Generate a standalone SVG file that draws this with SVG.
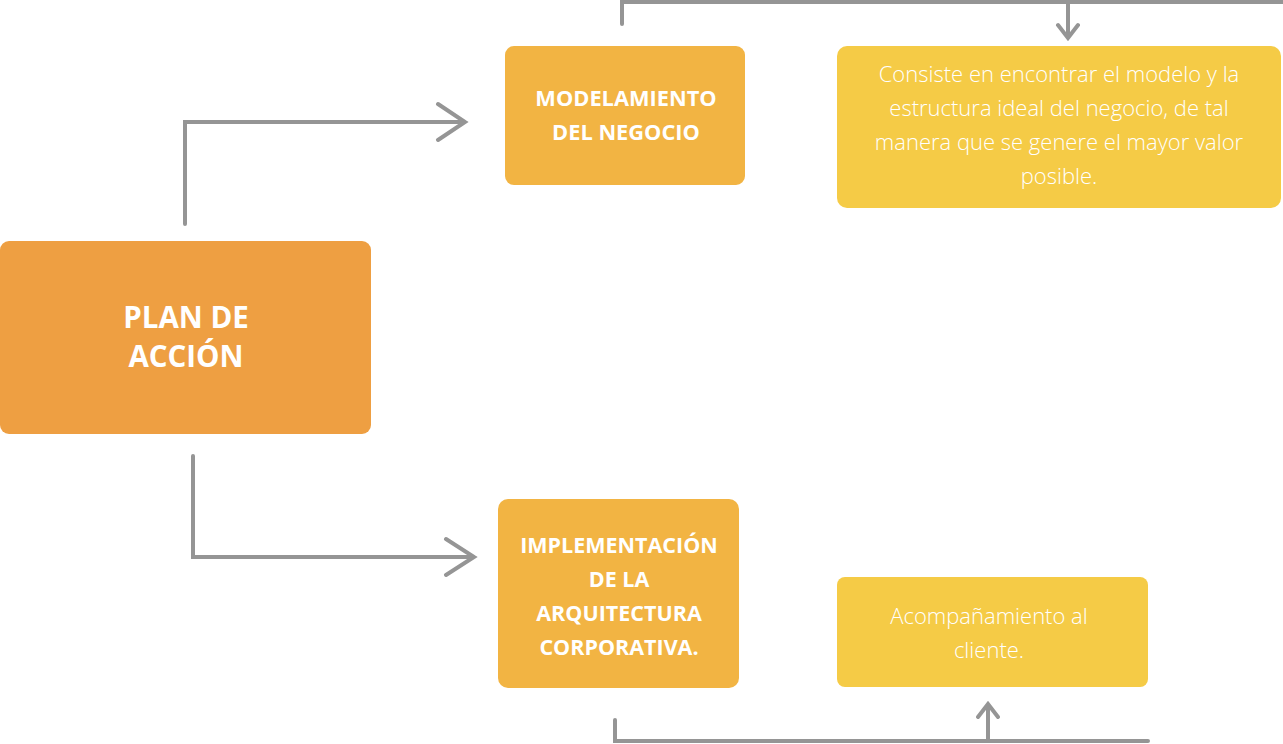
<svg xmlns="http://www.w3.org/2000/svg" width="1283" height="744" viewBox="0 0 1283 744">
<style>
.c{fill:none;stroke:#959595;stroke-width:4;stroke-linecap:round;stroke-linejoin:miter}
.h{font-family:"Open Sans","Liberation Sans",sans-serif;font-weight:700;fill:#fff;text-anchor:middle}
.l{font-family:"Open Sans","Liberation Sans",sans-serif;font-weight:300;fill:#fff;text-anchor:middle}
</style>
<rect width="1283" height="744" fill="#fff"/>
<g id="connectors">
<path class="c" d="M185 224V122H465M438 104L465 122L438 140"/>
<path class="c" d="M193 456V557H474M446 539L474 557L446 575"/>
<path class="c" d="M622 24V2H1283M1068 2V38M1058 25L1068 38L1078 25"/>
<path class="c" d="M615 720V741H1148M988 741V704M978 717L988 704L998 717"/>
</g>
<g id="plan">
<rect x="0" y="241" width="371" height="193" rx="9" fill="#EE9F42"/>
<text class="h" font-size="29.5" x="186" y="328">PLAN DE</text>
<text class="h" font-size="29.5" x="186" y="367">ACCIÓN</text>
</g>
<g id="modelamiento">
<rect x="505" y="46" width="240" height="139" rx="9" fill="#F2B443"/>
<text class="h" font-size="21.8" x="626" y="106">MODELAMIENTO</text>
<text class="h" font-size="21.8" x="626" y="140">DEL NEGOCIO</text>
</g>
<g id="descripcion">
<rect x="837" y="46" width="444" height="162" rx="10" fill="#F5CB46"/>
<text class="l" font-size="22" x="1059" y="82">Consiste en encontrar el modelo y la</text>
<text class="l" font-size="22" x="1059" y="116">estructura ideal del negocio, de tal</text>
<text class="l" font-size="22" x="1059" y="150">manera que se genere el mayor valor</text>
<text class="l" font-size="22" x="1059" y="184">posible.</text>
</g>
<g id="implementacion">
<rect x="498" y="499" width="241" height="189" rx="10" fill="#F2B443"/>
<text class="h" font-size="21.5" x="619" y="553">IMPLEMENTACIÓN</text>
<text class="h" font-size="21.5" x="619" y="587">DE LA</text>
<text class="h" font-size="21.5" x="619" y="621">ARQUITECTURA</text>
<text class="h" font-size="21.5" x="619" y="655">CORPORATIVA.</text>
</g>
<g id="acompanamiento">
<rect x="837" y="577" width="311" height="110" rx="8" fill="#F5CB46"/>
<text class="l" font-size="22" x="989" y="624">Acompañamiento al</text>
<text class="l" font-size="22" x="989" y="658">cliente.</text>
</g>
</svg>
